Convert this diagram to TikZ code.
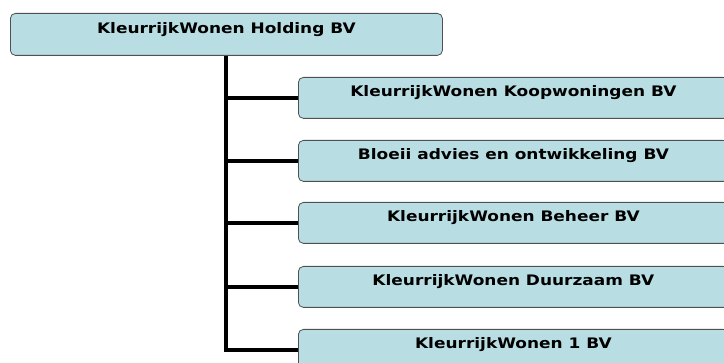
\documentclass[tikz,border=0pt]{standalone}
\usepackage{fontspec}
\setmainfont{DejaVu Sans}
\newfontfamily\vakfont[FakeStretch=1.17]{DejaVu Sans}
\definecolor{vakblauw}{RGB}{184,222,227}
\definecolor{rand}{RGB}{80,80,80}
\tikzset{%
    org/.style={rectangle, rounded corners=5pt, draw=rand, line width=0.8pt, fill=vakblauw,
        anchor=north west, inner xsep=4pt, inner ysep=0pt, text height=19pt, text depth=22pt,
        font=\vakfont\fontsize{14.5}{16}\selectfont\bfseries},
    lijn/.style={line width=4pt, black}
}

\begin{document}
\begin{tikzpicture}[x=1pt,y=-1pt]
    \useasboundingbox (0,0) rectangle (724,363);
    \clip (0,0) rectangle (724,363);
    \node[org, minimum width=432pt, text height=20pt, text depth=22pt] (holding) at (10,13) {KleurrijkWonen Holding BV};
    \node[org, minimum width=430pt] (koop) at (298,77) {KleurrijkWonen Koopwoningen BV};
    \node[org, minimum width=430pt] (bloeii) at (298,140) {Bloeii advies en ontwikkeling BV};
    \node[org, minimum width=430pt] (beheer) at (298,202) {KleurrijkWonen Beheer BV};
    \node[org, minimum width=430pt] (duurzaam) at (298,266) {KleurrijkWonen Duurzaam BV};
    \node[org, minimum width=430pt] (een) at (298,329) {KleurrijkWonen 1 BV};
    \coordinate (stam) at (226,0);
    \foreach \dochter in {koop,bloeii,beheer,duurzaam,een}
        \draw[lijn] (stam|-holding.south) |- (\dochter.west);
\end{tikzpicture}
\end{document}
